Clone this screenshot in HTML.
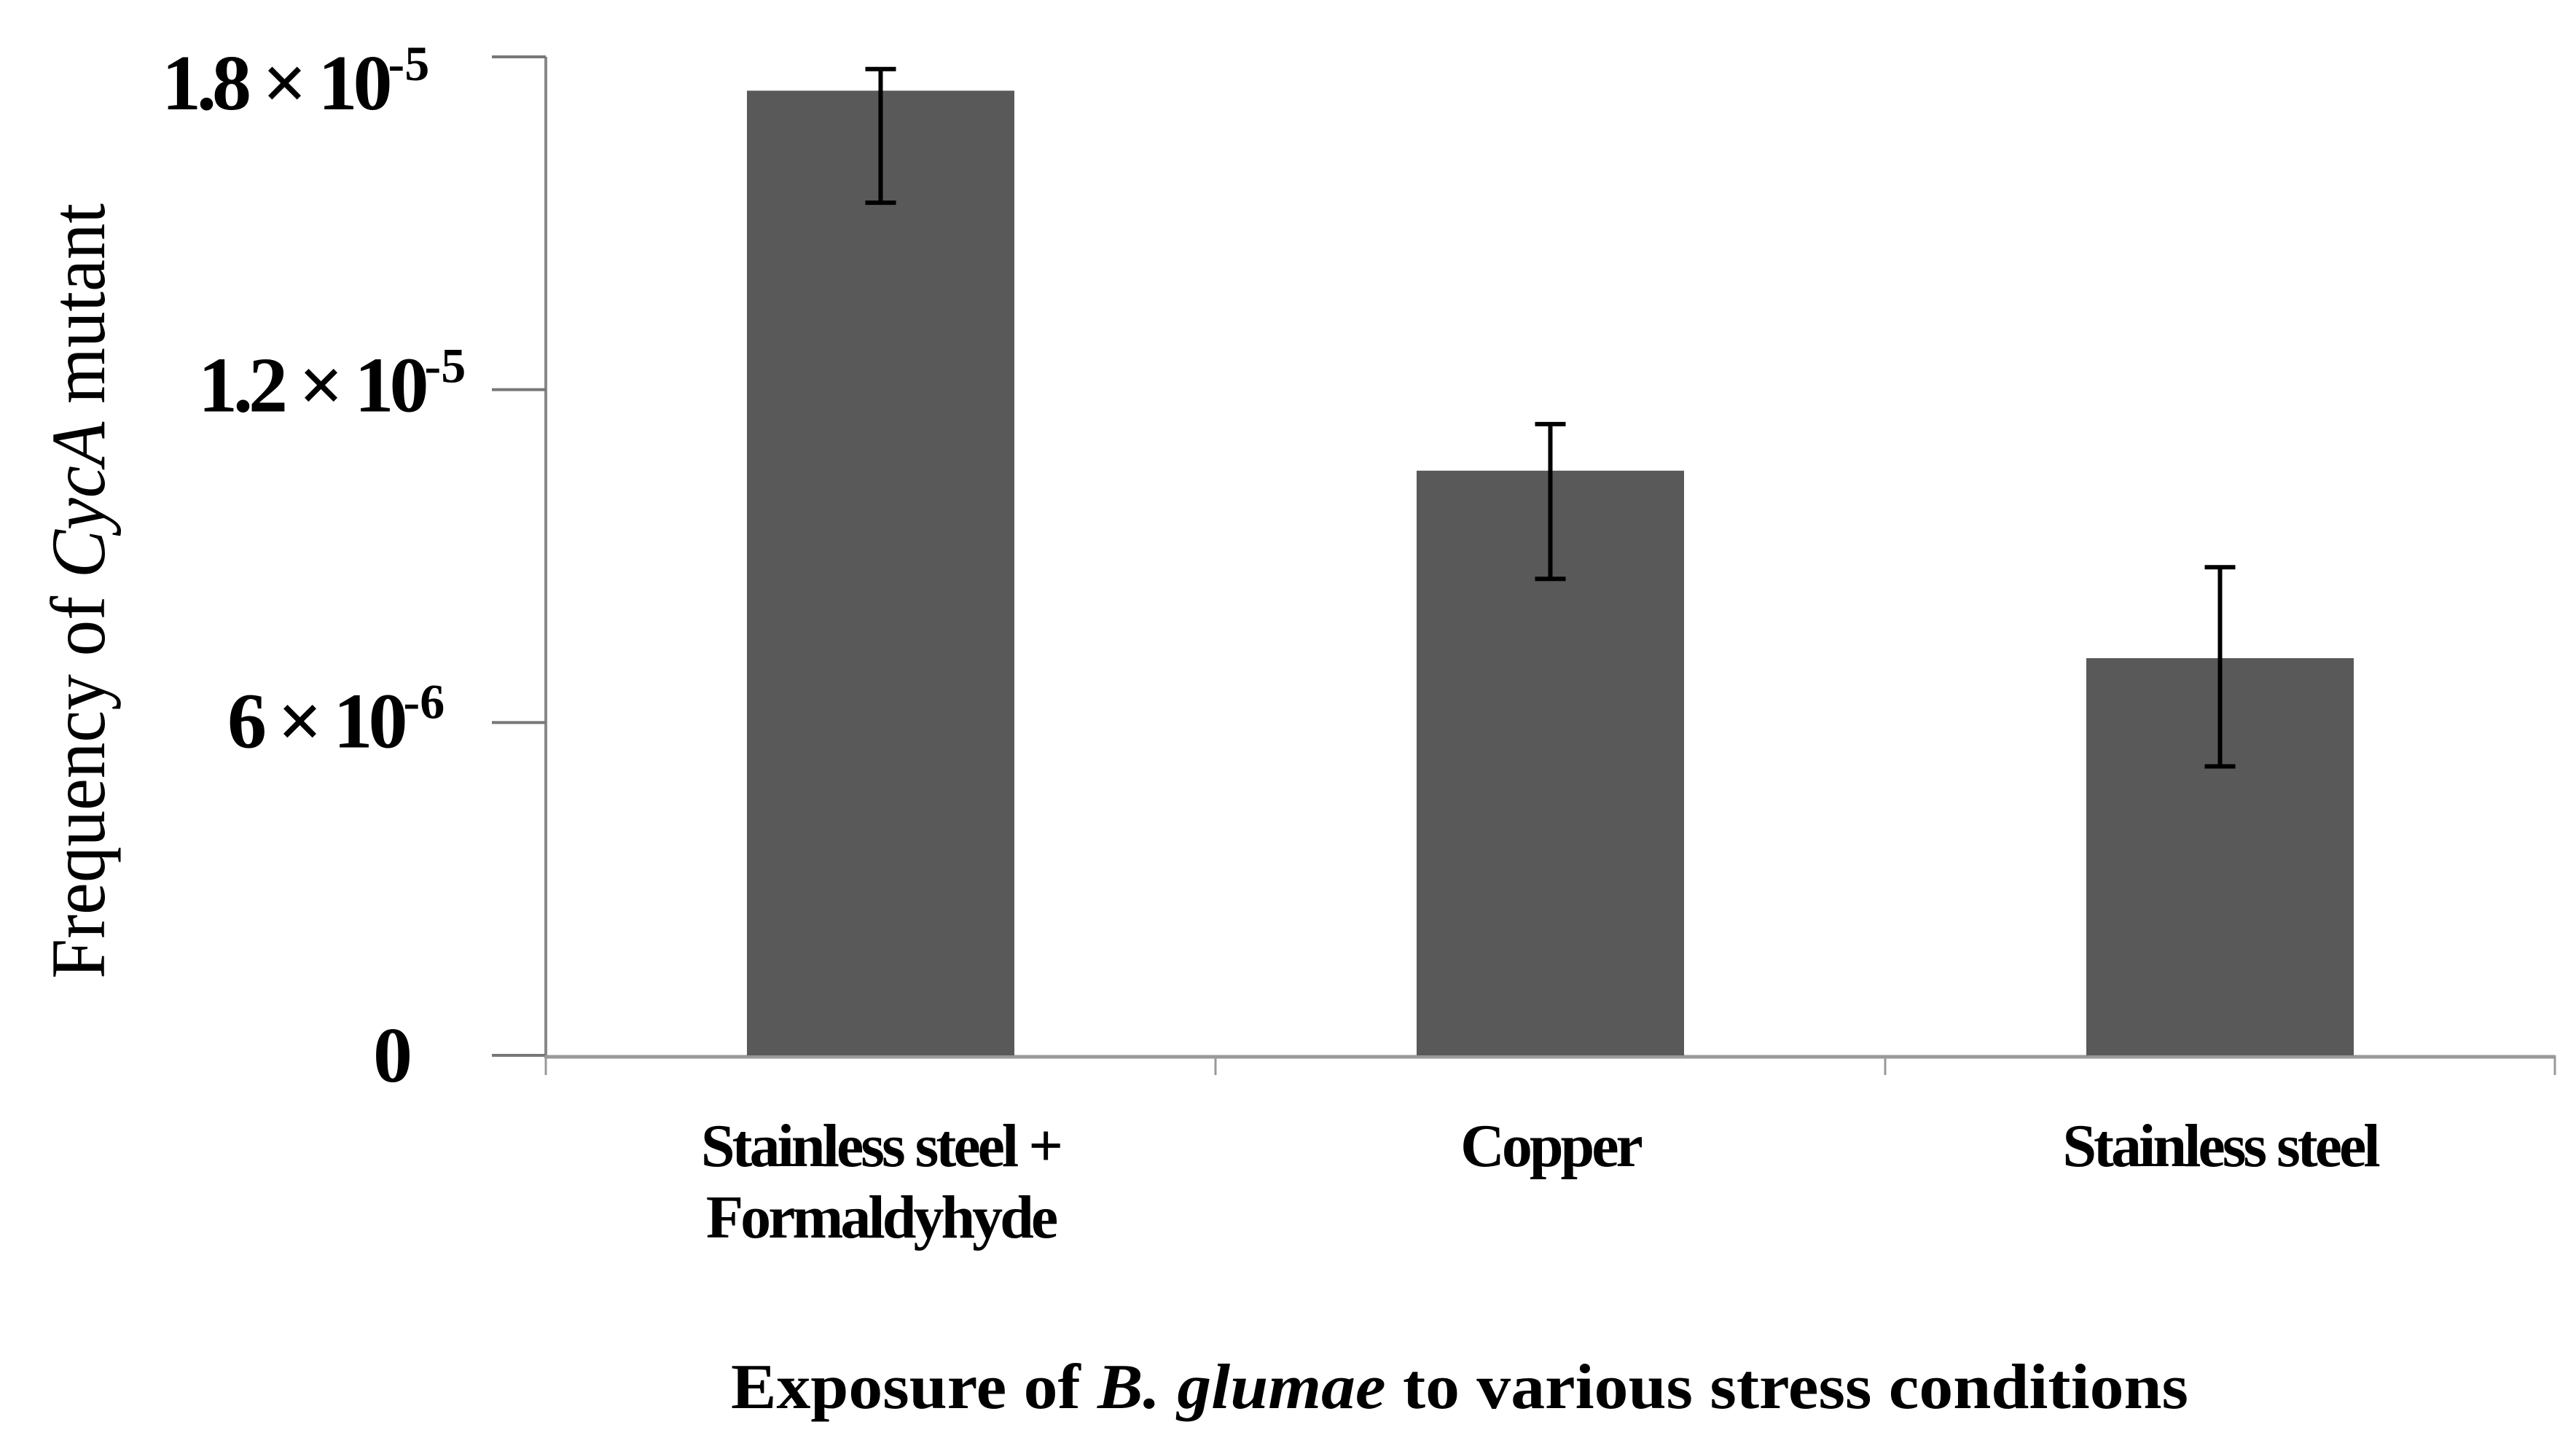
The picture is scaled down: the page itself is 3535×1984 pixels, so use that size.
<!DOCTYPE html>
<html><head><meta charset="utf-8"><style>
html,body{margin:0;padding:0;background:#fff;}
svg{display:block;}
text{font-family:"Liberation Serif",serif;fill:#000;}
</style></head><body>
<svg id="chart" width="3535" height="1984" viewBox="0 0 3535 1984" xmlns="http://www.w3.org/2000/svg">
<rect x="0" y="0" width="3535" height="1984" fill="#fff"/>
<g id="plot"></g>
<text x="143" y="811" transform="rotate(-90 143 811)" text-anchor="middle" font-size="106" textLength="1064" lengthAdjust="spacingAndGlyphs">Frequency of <tspan font-style="italic">CycA</tspan> mutant</text>
<text x="2003" y="1932" text-anchor="middle" font-size="88" font-weight="bold" textLength="2000" lengthAdjust="spacingAndGlyphs">Exposure of <tspan font-style="italic">B. glumae</tspan> to various stress conditions</text>
</svg>
<script>
const categories = ["Stainless steel +|Formaldyhyde", "Copper", "Stainless steel"];
const values = [1.739e-5, 1.054e-5, 0.716e-5];
const errHigh = [1.778e-5, 1.138e-5, 0.880e-5];
const errLow = [1.537e-5, 0.859e-5, 0.521e-5];
const tickValues = [0, 6e-6, 1.2e-5, 1.8e-5];
const tickMantissa = ["0", "6", "1.2", "1.8"];
const tickExponent = ["", "-6", "-5", "-5"];

const NS = "http://www.w3.org/2000/svg";
const plot = document.getElementById('plot');
const X0 = 749, X1 = 3506, Y0 = 1448, YT = 78, YMAX = 1.8e-5;
const band = (X1 - X0) / categories.length;
function y(v){ return Y0 - (v / YMAX) * (Y0 - YT); }
function xc(i){ return X0 + band * (i + 0.5); }
function mk(tag, attrs){ const e = document.createElementNS(NS, tag); for (const k in attrs) e.setAttribute(k, attrs[k]); plot.appendChild(e); return e; }

let ax = mk('line', {x1: X0, y1: YT, x2: X0, y2: Y0 + 4, stroke: '#888', 'stroke-width': 4});


let xax = mk('line', {x1: X0, y1: Y0 + 2, x2: X1, y2: Y0 + 2, stroke: '#999', 'stroke-width': 5});



const labelLeft = [512, 312, 272, 222];
const labelDy = [36, 34, 30, 72];
tickValues.forEach((v, i) => {
  const t = mk('line', {x1: 675, y1: y(v), x2: X0, y2: y(v), stroke: '#777', 'stroke-width': 4});
  
  
  const tx = mk('text', {x: labelLeft[i], y: y(v) + labelDy[i], 'font-size': 108, 'font-weight': 'bold'});
  
  
  if (tickExponent[i]) {
    const a = document.createElementNS(NS, 'tspan'); a.textContent = tickMantissa[i] + ' × 10'; a.setAttribute('letter-spacing', -6); tx.appendChild(a);
    const b = document.createElementNS(NS, 'tspan'); b.setAttribute('dy', -40); b.setAttribute('font-size', 68); b.textContent = tickExponent[i]; tx.appendChild(b);
  } else { tx.textContent = tickMantissa[i]; }
});

for (let i = 0; i <= categories.length; i++) {
  const cx = X0 + band * i;
  const t = mk('line', {x1: cx, y1: Y0, x2: cx, y2: 1475, stroke: '#999', 'stroke-width': 3});
  
  
}

const bw = 367;
values.forEach((v, i) => {
  const r = mk('rect', {x: xc(i) - bw / 2, y: y(v), width: bw, height: Y0 - y(v), fill: '#595959'});
  
  
  const g = mk('path', {d: `M${xc(i)},${y(errHigh[i])}V${y(errLow[i])}M${xc(i)-21},${y(errHigh[i])}H${xc(i)+21}M${xc(i)-21},${y(errLow[i])}H${xc(i)+21}`, stroke: '#000', 'stroke-width': 6, fill: 'none'});
  
  
  const lines = categories[i].split('|');
  lines.forEach((ln, j) => {
    const tx = mk('text', {x: xc(i), y: 1600 + j * 98, 'text-anchor': 'middle', 'font-size': 84, 'font-weight': 'bold', 'letter-spacing': -4});
    tx.textContent = ln;
    
    
  });
});
</script>
</body></html>
